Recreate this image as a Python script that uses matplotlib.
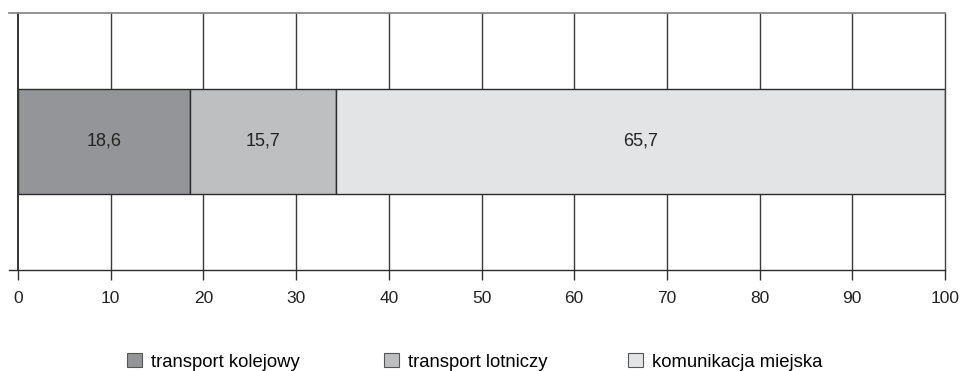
import matplotlib.pyplot as plt

plt.rcParams['font.family'] = ['Liberation Sans', 'DejaVu Sans']

# udział w strukturze (%)
kategorie = ['transport kolejowy', 'transport lotniczy', 'komunikacja miejska']
wartosci = [18.6, 15.7, 65.7]
kolory = ['#939598', '#bebfc1', '#e3e4e6']
ticki = list(range(0, 101, 10))

fig = plt.figure(figsize=(9.61, 3.71), dpi=100)
ax = fig.add_axes([18 / 961, 1 - 270 / 371, 927 / 961, 257 / 371])

# siatka pionowa
for t in ticki[1:-1]:
    ax.axvline(t, color='#3a3a3a', lw=1.0, zorder=1)

slupki = []
lewo = 0
for kat, w, k in zip(kategorie, wartosci, kolory):
    b = ax.barh(0, w, left=lewo, height=0.405, color=k, edgecolor='#2b2b2b',
                lw=1.0, label=kat, zorder=2)
    slupki.append(b)
    ax.text(lewo + w / 2, 0, ('%.1f' % w).replace('.', ','), ha='center',
            va='center', fontsize=13, color='#222222', zorder=3)
    lewo += w

ax.set_xlim(0, 100)
ax.set_ylim(-0.5, 0.5)
ax.set_xticks(ticki)
ax.set_xticklabels([str(t) for t in ticki], fontsize=12.5, color='#222222')
ax.set_yticks([])
ax.tick_params(axis='x', length=7, width=1, color='#333333', pad=8)

for s in ['top', 'bottom']:
    ax.spines[s].set_visible(False)
ax.spines['left'].set_color('#333333')
ax.spines['left'].set_linewidth(1.4)
ax.spines['right'].set_color('#444444')
ax.spines['right'].set_linewidth(1.0)

# górna i dolna linia wysunięte w lewo poza oś
ax.plot([-0.0097, 1], [1, 1], transform=ax.transAxes, color='#8a8a8a',
        lw=1.3, clip_on=False, zorder=4)
ax.plot([-0.0097, 1], [0, 0], transform=ax.transAxes, color='#2b2b2b',
        lw=1.0, clip_on=False, zorder=4)

# legenda - każdy wpis osobno
pozycje_x = [127, 384, 628]
for b, kat, px in zip(slupki, kategorie, pozycje_x):
    leg = fig.legend([b], [kat], loc='center left',
                     bbox_to_anchor=(px / 961, 1 - 362 / 371), frameon=False,
                     fontsize=13.3, handlelength=0.8, handleheight=0.8,
                     handletextpad=0.5, borderpad=0, borderaxespad=0)
    for h in leg.legend_handles:
        h.set_edgecolor('#555555')
        h.set_linewidth(0.8)

fig.savefig('out.png', dpi=100)
